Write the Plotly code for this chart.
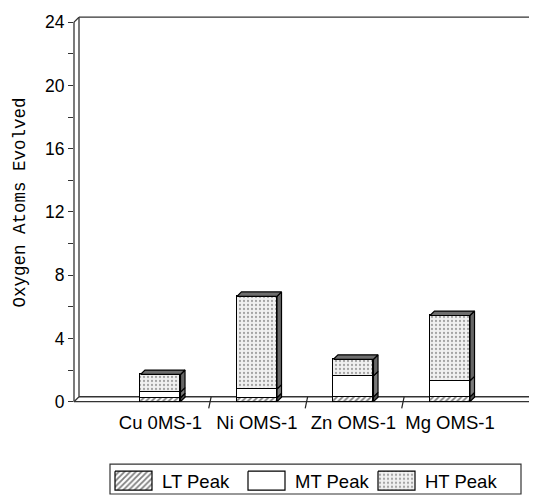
import plotly.graph_objects as go

# ---------------- data ----------------
categories = ["Cu 0MS-1", "Ni OMS-1", "Zn OMS-1", "Mg OMS-1"]
lt_peak = [0.25, 0.25, 0.30, 0.30]
mt_peak = [0.35, 0.55, 1.33, 1.02]
ht_peak = [1.12, 5.86, 1.05, 4.13]
series_names = ["LT Peak", "MT Peak", "HT Peak"]
y_major = [0, 4, 8, 12, 16, 20, 24]
y_minor = [2, 6, 10, 14, 18, 22]
y_title = "Oxygen Atoms Evolved"

# ---------------- style ----------------
FONT = "Liberation Sans, Arial, sans-serif"
MONO = "Liberation Mono, Courier New, monospace"
BAR_W = 0.415
BDX, BDY = 0.047, 0.28          # bar depth (data units)
WDXP, WDY = 5 / 463, 0.31       # wall depth (paper x, data y)
XRANGE = [-0.896, 3.902]
YRANGE = [-0.5, 24.45]

styles = {
    "LT Peak": dict(color="white", pattern=dict(shape="/", fgcolor="black", bgcolor="white",
                                                 size=4, solidity=0.45)),
    "MT Peak": dict(color="white"),
    "HT Peak": dict(color="#e4e4e4", pattern=dict(shape=".", fgcolor="#555555", bgcolor="#f0f0f0",
                                                   size=4, solidity=0.25)),
}
side_fill = {"LT Peak": "#4e4e4e", "MT Peak": "#7a7a7a", "HT Peak": "#666666"}

x_pos = list(range(len(categories)))
series = [lt_peak, mt_peak, ht_peak]

fig = go.Figure()

# front faces (stacked bars)
for name, vals in zip(series_names, series):
    st = styles[name]
    marker = dict(color=st["color"], line=dict(color="black", width=1.2))
    if "pattern" in st:
        marker["pattern"] = st["pattern"]
    fig.add_trace(go.Bar(x=x_pos, y=vals, width=BAR_W, marker=marker, name=name,
                         showlegend=False, hoverinfo="skip"))

# side faces
base = [0.0] * len(categories)
for name, vals in zip(series_names, series):
    xs, ys = [], []
    for i, v in enumerate(vals):
        xr = x_pos[i] + BAR_W / 2
        b, t = base[i], base[i] + v
        xs += [xr, xr + BDX, xr + BDX, xr, xr, None]
        ys += [b, b + BDY, t + BDY, t, b, None]
        base[i] = t
    fig.add_trace(go.Scatter(x=xs, y=ys, mode="lines", fill="toself",
                             fillcolor=side_fill[name], line=dict(color="black", width=1.2),
                             showlegend=False, hoverinfo="skip"))

# top faces
xs, ys = [], []
for i, T in enumerate(base):
    xl, xr = x_pos[i] - BAR_W / 2, x_pos[i] + BAR_W / 2
    xs += [xl, xl + BDX, xr + BDX, xr, xl, None]
    ys += [T, T + BDY, T + BDY, T, T, None]
fig.add_trace(go.Scatter(x=xs, y=ys, mode="lines", fill="toself", fillcolor="#6e6e6e",
                         line=dict(color="black", width=1.2), showlegend=False, hoverinfo="skip"))

# category separator ticks on the floor
xs, ys = [], []
for i in range(len(categories) - 1):
    xm = x_pos[i] + 0.5
    xs += [xm + 0.025, xm, None]
    ys += [WDY, -0.42, None]
fig.add_trace(go.Scatter(x=xs, y=ys, mode="lines", line=dict(color="#222", width=1.2),
                         showlegend=False, hoverinfo="skip"))

# ---------------- walls / floor ----------------
LC = dict(color="#333333", width=1.3)
top = y_major[-1]
shapes = [
    dict(type="line", xref="paper", yref="y", x0=0, x1=0, y0=0, y1=top, line=LC, layer="below"),
    dict(type="line", xref="paper", yref="y", x0=WDXP, x1=WDXP, y0=WDY, y1=top + WDY, line=LC, layer="below"),
    dict(type="line", xref="paper", yref="y", x0=0, x1=WDXP, y0=top, y1=top + WDY, line=LC, layer="below"),
    dict(type="line", xref="paper", yref="y", x0=WDXP, x1=1, y0=top + WDY, y1=top + WDY, line=LC, layer="below"),
    dict(type="line", xref="paper", yref="y", x0=0, x1=WDXP, y0=0, y1=WDY, line=LC, layer="below"),
    dict(type="line", xref="paper", yref="y", x0=0, x1=1, y0=0, y1=0, line=LC, layer="below"),
    dict(type="line", xref="paper", yref="y", x0=WDXP, x1=1, y0=WDY, y1=WDY, line=LC, layer="below"),
]

# ---------------- custom legend (window-pixel-like units on x2/y2) ----------------
leg_sym_x = [115, 248, 378]
leg_sym_w = 37
leg_y0, leg_y1 = 471, 490
shapes.append(dict(type="rect", xref="x2", yref="y2", x0=110, x1=521, y0=464, y1=494,
                   line=dict(color="#333", width=1.2)))
annotations = []
for name, lx in zip(series_names, leg_sym_x):
    st = styles[name]
    kw = dict(fillcolor=st["color"])
    if "pattern" in st:
        kw["fillpattern"] = st["pattern"]
    fig.add_trace(go.Scatter(x=[lx, lx + leg_sym_w, lx + leg_sym_w, lx, lx],
                             y=[leg_y0, leg_y0, leg_y1, leg_y1, leg_y0],
                             mode="lines", fill="toself", line=dict(color="black", width=1.2),
                             xaxis="x2", yaxis="y2", showlegend=False, hoverinfo="skip", **kw))
    annotations.append(dict(text=name, xref="x2", yref="y2", x=lx + leg_sym_w + 8,
                            y=(leg_y0 + leg_y1) / 2 + 0.5, xanchor="left", yanchor="middle",
                            showarrow=False, font=dict(family=FONT, size=18.5, color="black")))

annotations.append(dict(text=y_title, textangle=-90, xref="paper", yref="y",
                        x=(20 - 74) / 463, y=12.6, xanchor="center", yanchor="middle",
                        showarrow=False, font=dict(family=MONO, size=17.5, color="black")))

# note: the page body has an 8px margin, so margins are offset by 8px
fig.update_layout(
    width=537, height=497,
    margin=dict(l=66, r=8, t=3.8, b=8),
    plot_bgcolor="white", paper_bgcolor="white",
    barmode="stack", bargap=0, showlegend=False,
    shapes=shapes, annotations=annotations,
    xaxis=dict(range=XRANGE, tickmode="array", tickvals=x_pos, ticktext=categories,
               showgrid=False, zeroline=False, showline=False, ticks="",
               tickfont=dict(family=FONT, size=18.5, color="black"), anchor="y", domain=[0, 1]),
    yaxis=dict(range=YRANGE, tickmode="array", tickvals=y_major, ticks="outside", ticklen=5,
               tickcolor="#333", tickwidth=1.3, showgrid=False, zeroline=False, showline=False,
               minor=dict(tickmode="array", tickvals=y_minor, ticks="outside", ticklen=5,
                          tickcolor="#333", tickwidth=1.3, showgrid=False),
               tickfont=dict(family=FONT, size=17.5, color="black"),
               domain=[(497 - 409) / 485.2, 1], anchor="x"),
    xaxis2=dict(range=[74, 537], domain=[0, 1], anchor="y2", visible=False, fixedrange=True),
    yaxis2=dict(range=[497, 497 - 48.5], domain=[0, 0.1], anchor="x2", visible=False, fixedrange=True),
)

fig.write_html("out.html")
